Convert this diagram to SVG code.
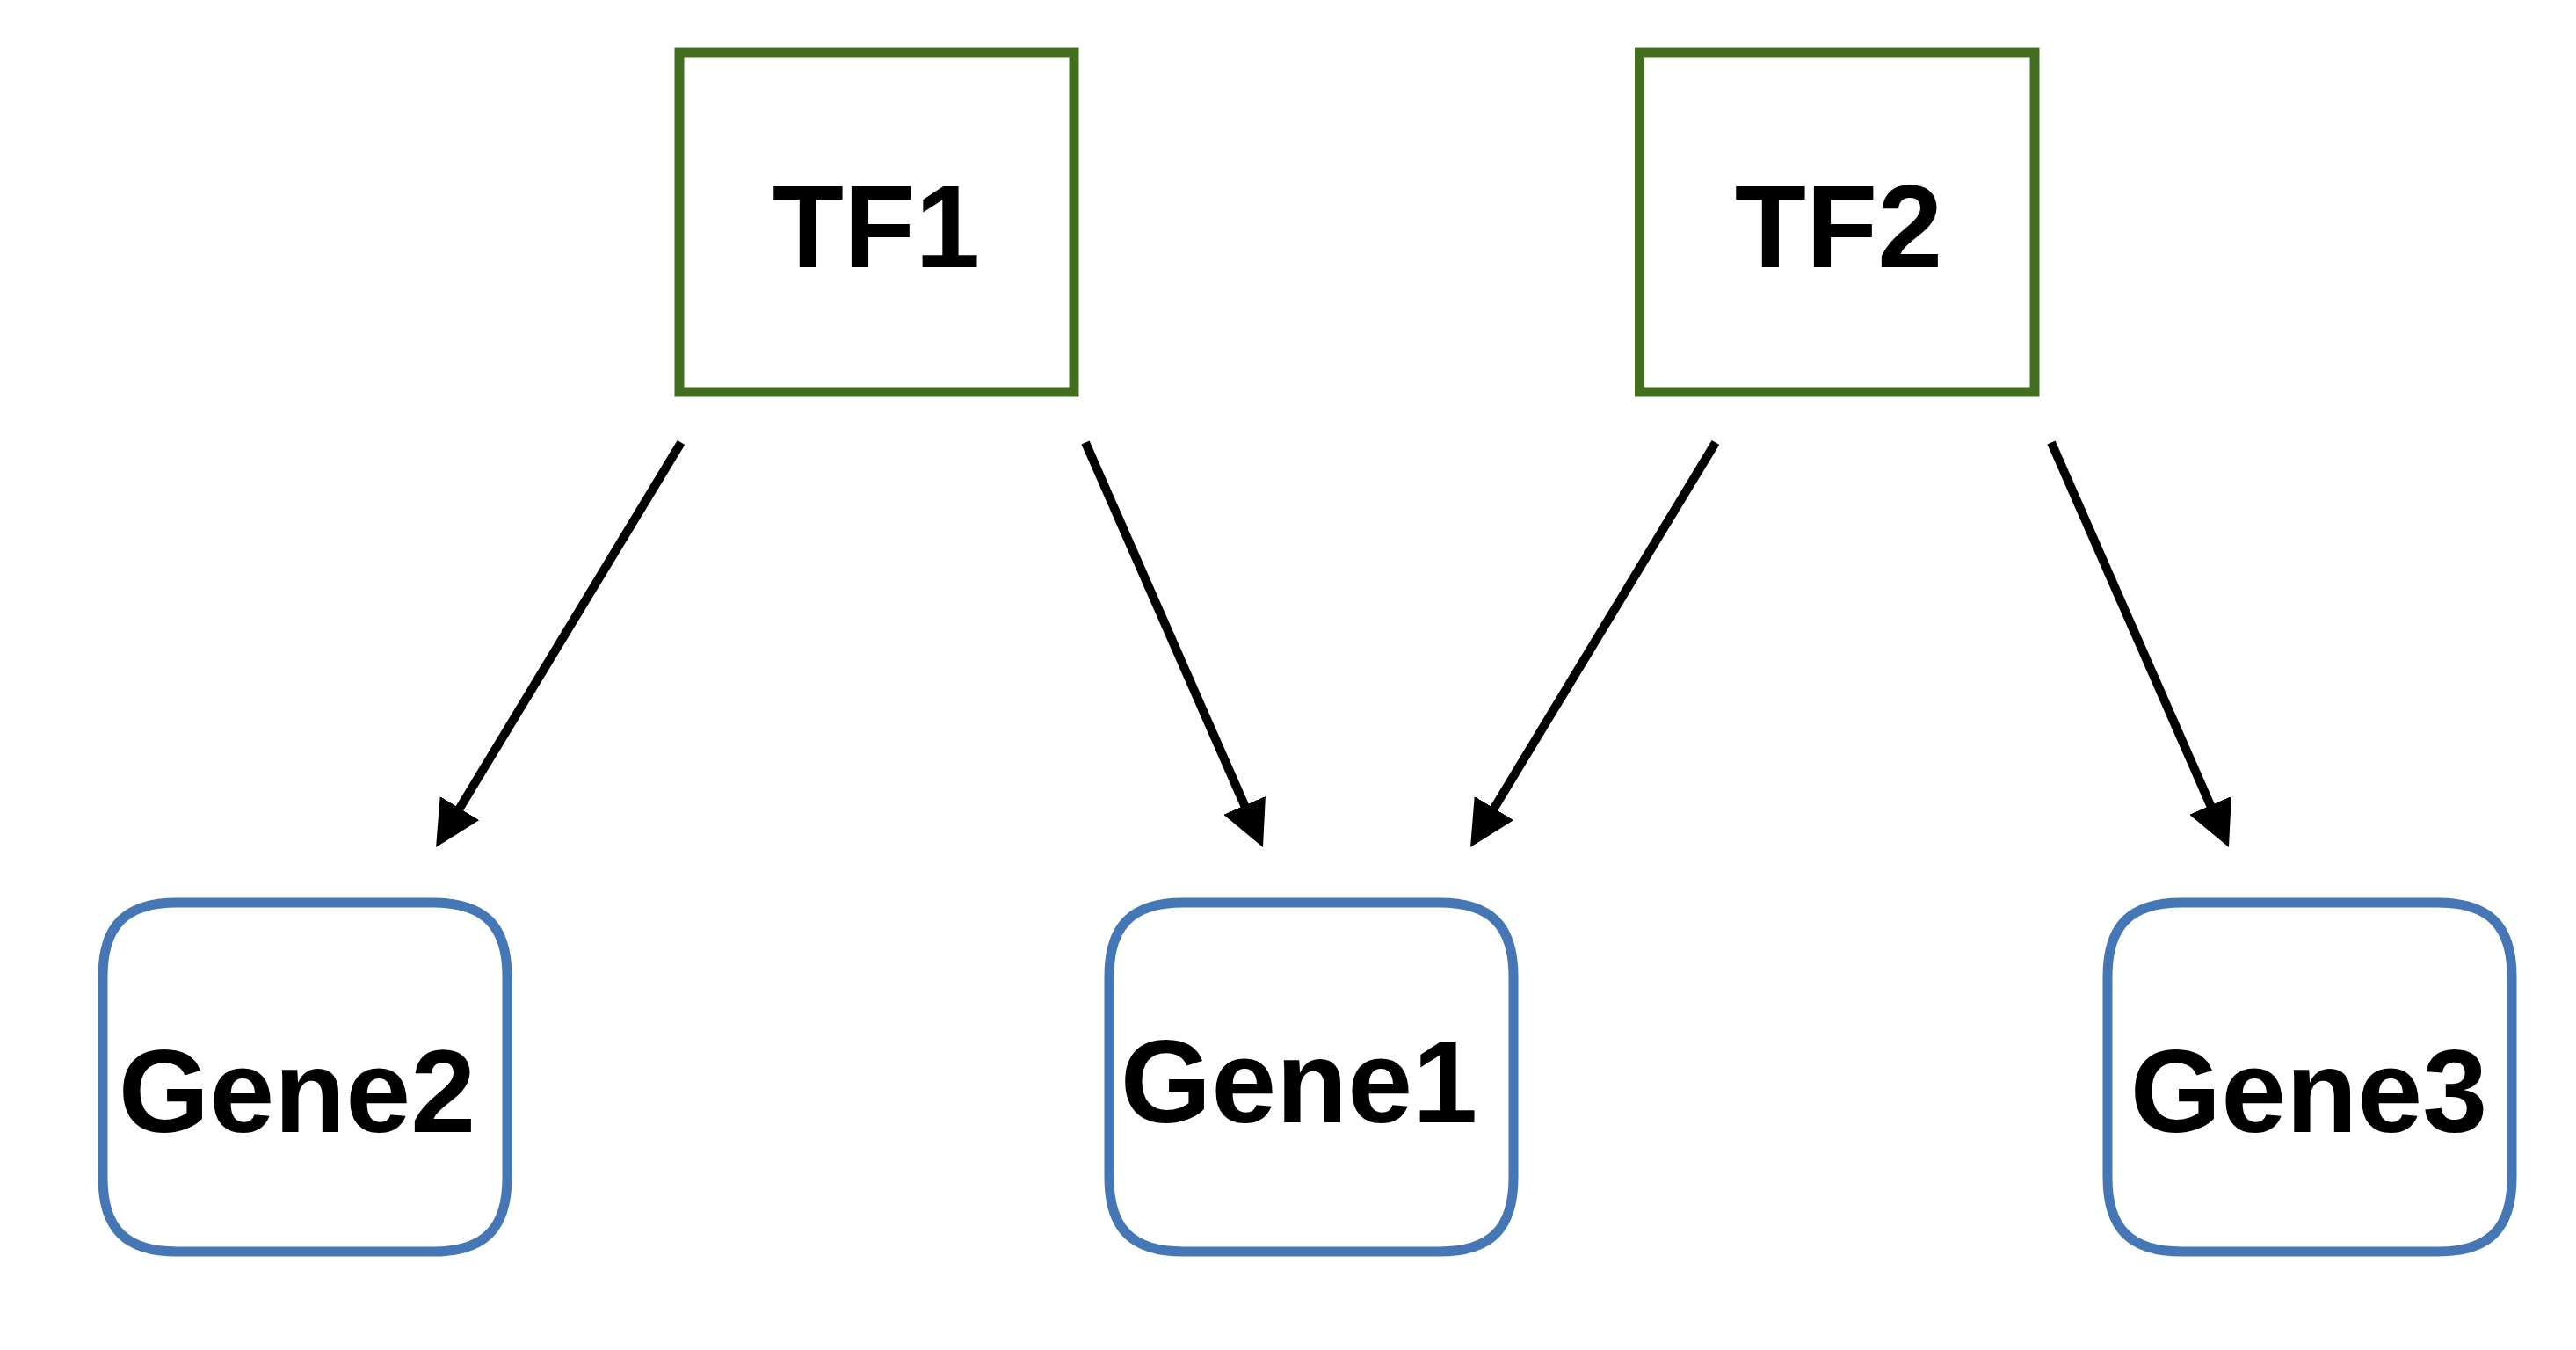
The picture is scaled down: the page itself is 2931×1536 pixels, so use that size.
<svg xmlns="http://www.w3.org/2000/svg" width="2931" height="1536" viewBox="0 0 2931 1536">
  <style>
    .tf { fill: #ffffff; stroke: #416F1F; stroke-width: 11; }
    .gene { fill: #ffffff; stroke: #4576B6; stroke-width: 11; }
    .lbl { font-family: "Liberation Sans", Arial, Helvetica, sans-serif; font-weight: bold; font-size: 133px; fill: #000000; text-anchor: middle; }
    .edge { stroke: #000000; stroke-width: 10; fill: none; stroke-linecap: butt; marker-end: url(#arrow); }
  </style>
  <defs>
    <marker id="arrow" viewBox="0 -26 52 52" markerWidth="52" markerHeight="52" refX="4" refY="0" orient="auto" markerUnits="userSpaceOnUse">
      <path d="M0,-26 L52,0 L0,26 Z" fill="#000000"/>
    </marker>
  </defs>
  <rect x="0" y="0" width="2931" height="1536" fill="#ffffff"/>

  <g id="connectors">
    <line class="edge" x1="775" y1="503.5" x2="520.9" y2="923"/>
    <line class="edge" x1="1235" y1="503.5" x2="1417.7" y2="920"/>
    <line class="edge" x1="1952" y1="503.5" x2="1697.9" y2="923"/>
    <line class="edge" x1="2334" y1="503.5" x2="2516.7" y2="920"/>
  </g>

  <g id="TF1">
    <rect class="tf" x="773" y="60" width="449" height="386"/>
    <text class="lbl" x="997" y="304">TF1</text>
  </g>
  <g id="TF2">
    <rect class="tf" x="1865.5" y="60" width="449.5" height="386"/>
    <text class="lbl" x="2092" y="304">TF2</text>
  </g>

  <g id="Gene2" transform="translate(117,1027)">
    <path class="gene" d="M84,0 H376 C434,0 460,26 460,84 V313 C460,371 434,397 376,397 H84 C26,397 0,371 0,313 V84 C0,26 26,0 84,0 Z"/>
    <text class="lbl" x="221" y="261">Gene2</text>
  </g>
  <g id="Gene1" transform="translate(1262,1027)">
    <path class="gene" d="M84,0 H376 C434,0 460,26 460,84 V313 C460,371 434,397 376,397 H84 C26,397 0,371 0,313 V84 C0,26 26,0 84,0 Z"/>
    <text class="lbl" x="216" y="250">Gene1</text>
  </g>
  <g id="Gene3" transform="translate(2398,1027)">
    <path class="gene" d="M84,0 H376 C434,0 460,26 460,84 V313 C460,371 434,397 376,397 H84 C26,397 0,371 0,313 V84 C0,26 26,0 84,0 Z"/>
    <text class="lbl" x="229" y="261">Gene3</text>
  </g>
</svg>
